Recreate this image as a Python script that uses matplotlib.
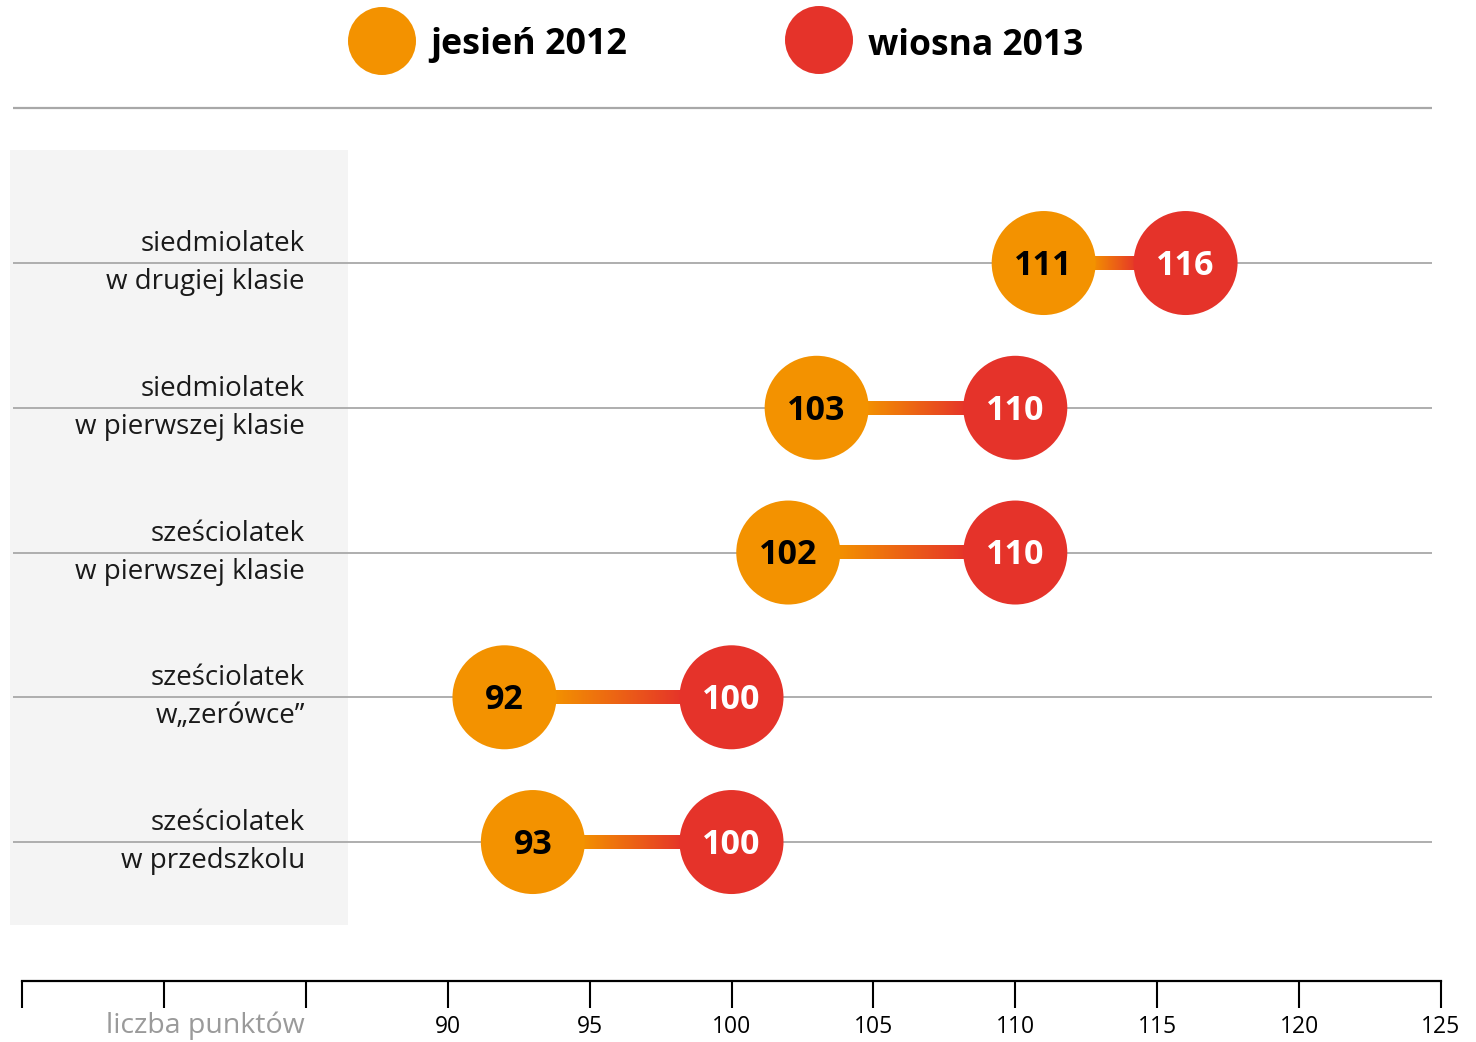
import numpy as np
import matplotlib.pyplot as plt
from matplotlib.colors import LinearSegmentedColormap
from matplotlib.patches import Rectangle

# dane: wyniki punktowe jesień 2012 / wiosna 2013
grupy = ['siedmiolatek\nw drugiej klasie',
         'siedmiolatek\nw pierwszej klasie',
         'sześciolatek\nw pierwszej klasie',
         'sześciolatek\nw\u201ezerówce\u201d',
         'sześciolatek\nw przedszkolu']
jesien_2012 = [111, 103, 102, 92, 93]
wiosna_2013 = [116, 110, 110, 100, 100]
ticki = [75, 80, 85, 90, 95, 100, 105, 110, 115, 120, 125]
ticki_opis = ['', '', '', '90', '95', '100', '105', '110', '115', '120', '125']

POMARANCZ = '#F39200'
CZERWONY = '#E5332A'
SZARY = '#a8a8a8'

plt.rcParams['font.family'] = ['Open Sans', 'DejaVu Sans']

W, H = 1476, 1042
fig = plt.figure(figsize=(W / 100, H / 100), dpi=100)
ax = fig.add_axes([22 / W, 1 - 981 / H, 1419 / W, (981 - 108) / H])

y = np.arange(len(grupy))
ymin, ymax = -1.071, 4.96

# szare tło pod opisami
ax.add_patch(Rectangle((74.58, -0.781), 86.49 - 74.58, 4.573 + 0.781,
                       facecolor='#f4f4f4', edgecolor='none', clip_on=False, zorder=0))

# linie wierszy i górna linia
ax.hlines(y, 74.68, 124.68, color=SZARY, lw=1.3, clip_on=False, zorder=1)
ax.hlines(ymin, 74.68, 124.68, color=SZARY, lw=1.6, clip_on=False, zorder=1)

# łączniki z gradientem
cmap = LinearSegmentedColormap.from_list('g', [POMARANCZ, CZERWONY])
grad = np.linspace(0, 1, 256).reshape(1, -1)
r = 1.7
for yi, a, b in zip(y, jesien_2012, wiosna_2013):
    ax.imshow(grad, cmap=cmap, aspect='auto', zorder=2,
              extent=(a + r, b - r, yi + 0.048, yi - 0.048))

s = (104 * 0.72) ** 2
ax.scatter(jesien_2012, y, s=s, color=POMARANCZ, edgecolors='none', zorder=3)
ax.scatter(wiosna_2013, y, s=s, color=CZERWONY, edgecolors='none', zorder=3)
for yi, a, b in zip(y, jesien_2012, wiosna_2013):
    ax.text(a, yi + 0.02, str(a), ha='center', va='center', fontsize=24.5,
            fontweight='bold', color='black', zorder=4)
    ax.text(b, yi + 0.02, str(b), ha='center', va='center', fontsize=24.5,
            fontweight='bold', color='white', zorder=4)

# opisy grup
for yi, g in zip(y, grupy):
    l1, l2 = g.split('\n')
    ax.text(84.97, yi - 0.083, l1, ha='right', va='baseline', fontsize=20, color='#1a1a1a')
    ax.text(84.97, yi + 0.18, l2, ha='right', va='baseline', fontsize=20, color='#1a1a1a')

ax.set_xlim(75, 125)
ax.set_ylim(ymax, ymin)
ax.set_xticks(ticki)
ax.set_xticklabels(ticki_opis, fontsize=16.5)
ax.tick_params(axis='x', direction='out', length=19.4, width=1.5, pad=5)
ax.set_yticks([])
for k in ['top', 'left', 'right']:
    ax.spines[k].set_visible(False)
ax.spines['bottom'].set_linewidth(1.6)
ax.patch.set_visible(False)

fig.text(305 / W, 1 - 1026 / H, 'liczba punktów', ha='right', va='center',
         fontsize=20.5, color='#9a9a9a')

# legenda
ax.scatter([382 / W], [1 - 41 / H], s=(68 * 0.72) ** 2, color=POMARANCZ,
           transform=fig.transFigure, clip_on=False, edgecolors='none')
ax.scatter([819 / W], [1 - 40 / H], s=(68 * 0.72) ** 2, color=CZERWONY,
           transform=fig.transFigure, clip_on=False, edgecolors='none')
fig.text(430 / W, 1 - 45 / H, 'jesień 2012', ha='left', va='center',
         fontsize=25.8, fontweight='bold')
fig.text(868 / W, 1 - 46 / H, 'wiosna 2013', ha='left', va='center',
         fontsize=25.5, fontweight='bold')

fig.savefig('out.png', dpi=100)
